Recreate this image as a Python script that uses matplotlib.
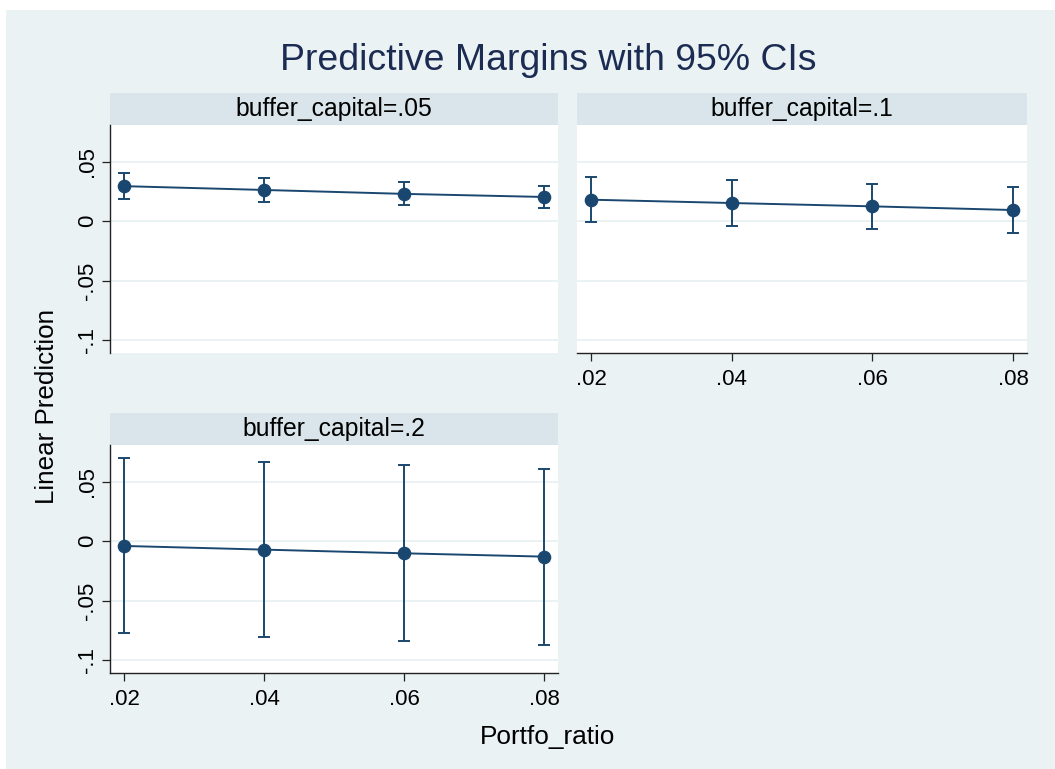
import matplotlib
matplotlib.use("Agg")
import matplotlib.pyplot as plt
from matplotlib.patches import Rectangle

plt.rcParams['font.family'] = ['Liberation Sans', 'DejaVu Sans']

# margins of the linear prediction at each Portfo_ratio, by buffer_capital
portfo_ratio = [0.02, 0.04, 0.06, 0.08]
buffer_labels = ["buffer_capital=.05", "buffer_capital=.1", "buffer_capital=.2"]

margin_05 = [0.0295, 0.0263, 0.0230, 0.0204]
lower_05 = [0.0184, 0.0161, 0.0139, 0.0108]
upper_05 = [0.0402, 0.0365, 0.0331, 0.0300]

margin_1 = [0.0181, 0.0153, 0.0125, 0.0094]
lower_1 = [-0.0011, -0.0037, -0.0068, -0.0099]
upper_1 = [0.0374, 0.0343, 0.0314, 0.0286]

margin_2 = [-0.0040, -0.0071, -0.0102, -0.0130]
lower_2 = [-0.0776, -0.0807, -0.0839, -0.0873]
upper_2 = [0.0697, 0.0671, 0.0640, 0.0612]

y_ticks = [-0.1, -0.05, 0, 0.05]
y_ticklabels = ["-.1", "-.05", "0", ".05"]
x_ticklabels = [".02", ".04", ".06", ".08"]

BG = "#EAF2F3"
STRIP = "#D9E5EA"
NAVY = "#1A476F"
AXIS = "#222222"
W, H = 1055, 769

fig = plt.figure(figsize=(W / 100, H / 100), dpi=100)
fig.patch.set_facecolor("white")
fig.patches.append(Rectangle((6 / W, 0), 1 - 6 / W, 1 - 10 / H, transform=fig.transFigure,
                             facecolor=BG, edgecolor="none", zorder=-5))


def panel(rect, label, mid, lo, hi, show_y, show_x):
    l, b, w, h = rect
    ax = fig.add_axes(rect, zorder=2)
    ax.set_facecolor("white")
    for y in y_ticks:
        ax.axhline(y, color=BG, lw=1.4, zorder=1)
    yerr = [[m - a for m, a in zip(mid, lo)], [c - m for m, c in zip(mid, hi)]]
    ax.errorbar(portfo_ratio, mid, yerr=yerr, fmt="none", ecolor=NAVY,
                elinewidth=1.4, capsize=4.0, capthick=1.4, zorder=2)
    ax.plot(portfo_ratio, mid, color=NAVY, lw=1.4, marker="o", markersize=8.8,
            zorder=3)
    ax.set_xlim(0.018, 0.082)
    ax.set_ylim(-0.111, 0.081)
    for s in ax.spines.values():
        s.set_visible(False)
    ax.set_yticks(y_ticks)
    ax.set_xticks(portfo_ratio)
    if show_y:
        ax.spines["left"].set_visible(True)
        ax.spines["left"].set_color(AXIS)
        ax.spines["left"].set_linewidth(1.0)
        ax.set_yticklabels(y_ticklabels, rotation=90, va="center", fontsize=16)
        ax.tick_params(axis="y", length=6, width=0.9, color=AXIS, pad=2.5)
    else:
        ax.tick_params(axis="y", left=False, labelleft=False)
    if show_x:
        ax.spines["bottom"].set_visible(True)
        ax.spines["bottom"].set_color(AXIS)
        ax.spines["bottom"].set_linewidth(1.0)
        ax.set_xticklabels(x_ticklabels, fontsize=16)
        ax.tick_params(axis="x", length=6, width=0.9, color=AXIS, pad=5.5)
    else:
        ax.tick_params(axis="x", bottom=False, labelbottom=False)
    # facet header above the plot region
    sh = 32 / H
    fig.patches.append(Rectangle((l, b + h), w, sh, transform=fig.transFigure,
                                 facecolor=STRIP, edgecolor="none", zorder=1))
    fig.text(l + w / 2, b + h + sh / 2, label, ha="center", va="center",
             fontsize=17.8, color="black")
    return ax


pw_left = (558 - 110) / W
pw_right = (1027 - 577) / W
ph = (353 - 125) / H
panel((110 / W, 1 - 353 / H, pw_left, ph), buffer_labels[0], margin_05, lower_05, upper_05, True, False)
panel((577 / W, 1 - 353 / H, pw_right, ph), buffer_labels[1], margin_1, lower_1, upper_1, False, True)
panel((110 / W, 1 - 673 / H, pw_left, ph), buffer_labels[2], margin_2, lower_2, upper_2, True, True)

fig.text(548 / W, 1 - 60 / H, "Predictive Margins with 95% CIs", ha="center", va="center",
         fontsize=26.9, color="#1C2B52")
fig.text(548 / W, 1 - 737 / H, "Portfo_ratio", ha="center", va="center", fontsize=18.9)
fig.text(47 / W, 1 - 406 / H, "Linear Prediction", ha="center", va="center",
         rotation=90, fontsize=18.7)

fig.savefig("out.png", dpi=100)
